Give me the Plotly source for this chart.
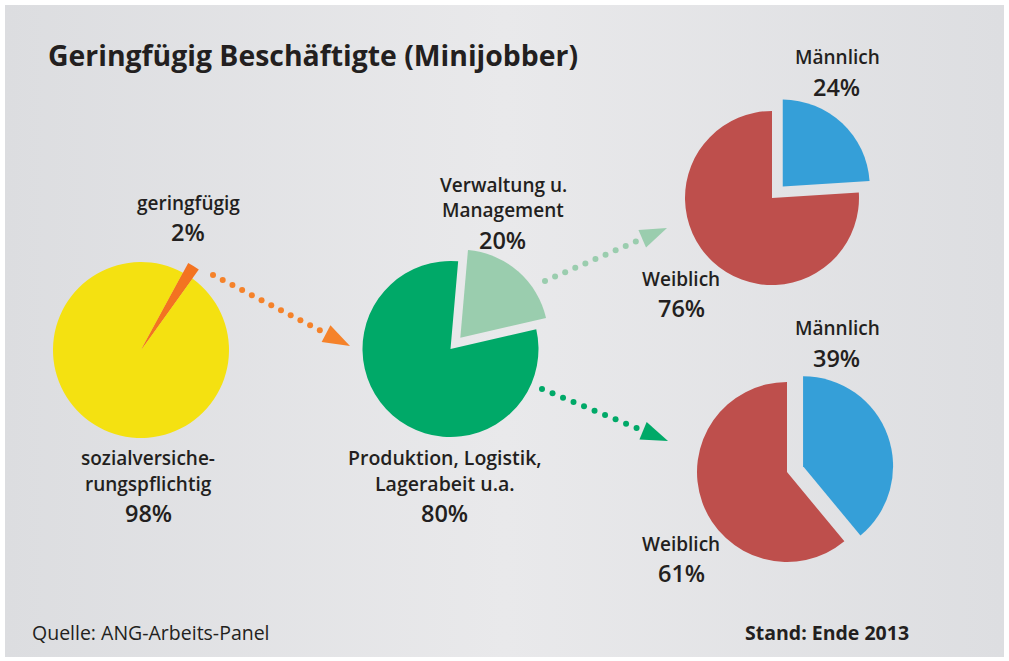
import numpy as np
import plotly.graph_objects as go

W, H = 1009, 661

# --- Daten ---------------------------------------------------------------
beschaeftigung = ['geringfügig', 'sozialversicherungspflichtig']
anteil_beschaeftigung = [2, 98]

taetigkeit = ['Verwaltung u. Management', 'Produktion, Logistik, Lagerabeit u.a.']
anteil_taetigkeit = [20, 80]

geschlecht = ['Männlich', 'Weiblich']
anteil_verwaltung = [24, 76]
anteil_produktion = [39, 61]

# Beschriftungen (Zeilen)
label_geringfuegig = ['geringfügig']
label_sozial = ['sozialversiche-', 'rungspflichtig']
label_verwaltung = ['Verwaltung u.', 'Management']
label_produktion = ['Produktion, Logistik,', 'Lagerabeit u.a.']

YELLOW = '#f4e111'
ORANGE = '#f37321'
ORANGE_DOT = '#f5822a'
GREEN = '#00a968'
LIGHT_GREEN = '#9acdae'
RED = '#be4f4c'
BLUE = '#359fd8'
TEXT = '#231f20'
FONT = 'Open Sans'


def domain(cx, cy, r, pull=0.0):
    # pixel centre/radius -> paper domain (plotly shrinks r by 1+pull)
    h = r * (1 + pull)
    return dict(x=[(cx - h) / W, (cx + h) / W],
                y=[1 - (cy + h) / H, 1 - (cy - h) / H])


def pie(labels, values, colors, dom, rotation=0, pull=None, hover=True):
    return go.Pie(
        labels=labels, values=values, sort=False, direction='clockwise',
        rotation=rotation, pull=pull if pull is not None else 0,
        marker=dict(colors=colors, line=dict(width=0)),
        textinfo='none', showlegend=False, domain=dom,
        hoverinfo='label+percent' if hover else 'skip',
    )


fig = go.Figure()

# Hintergrund (gebürstetes Metall, leichter Verlauf)
fig.add_trace(go.Scatter(
    x=[5, 1004, 1004, 5, 5], y=[5, 5, 657, 657, 5],
    mode='lines', fill='toself', line=dict(width=0),
    fillgradient=dict(type='horizontal',
                      colorscale=[[0, '#dcdde0'], [0.5, '#e9e9eb'], [1, '#dddee1']]),
    showlegend=False, hoverinfo='skip',
))

# ================================================================
#  Pfeile (gepunktet, mit Dreieck-Spitze) in Pixelkoordinaten
# ================================================================
arrows = [
    ((213, 275), (350, 346), ORANGE_DOT, 12),
    ((545, 281), (667, 228), LIGHT_GREEN, 10),
    ((542, 389), (668, 441), GREEN, 10),
]
for (x0, y0), (x1, y1), clr, n in arrows:
    u = np.array([x1 - x0, y1 - y0], dtype=float)
    u /= np.linalg.norm(u)
    perp = np.array([-u[1], u[0]])
    tip = np.array([x1, y1], dtype=float)
    base = tip - 27 * u
    last = base - 7 * u
    xs = np.linspace(x0, last[0], n)
    ys = np.linspace(y0, last[1], n)
    fig.add_trace(go.Scatter(
        x=xs, y=ys, mode='markers',
        marker=dict(size=6, color=clr, line=dict(width=0)),
        showlegend=False, hoverinfo='skip',
    ))
    p1 = base + 9.5 * perp
    p2 = base - 9.5 * perp
    fig.add_trace(go.Scatter(
        x=[p1[0], tip[0], p2[0], p1[0]], y=[p1[1], tip[1], p2[1], p1[1]],
        mode='lines', fill='toself', fillcolor=clr, line=dict(width=0, color=clr),
        showlegend=False, hoverinfo='skip',
    ))

# ================================================================
#  Kreisdiagramme
# ================================================================
fig.add_trace(pie(beschaeftigung, anteil_beschaeftigung, [ORANGE, YELLOW],
                  domain(141, 350, 88), rotation=28.5))
fig.add_trace(pie(beschaeftigung, anteil_beschaeftigung, [ORANGE, 'rgba(0,0,0,0)'],
                  domain(141, 350, 99), rotation=28.5, hover=False))

fig.add_trace(pie(taetigkeit, anteil_taetigkeit, [LIGHT_GREEN, GREEN],
                  domain(450.5, 349, 88, 0.17), rotation=5, pull=[0.17, 0]))

fig.add_trace(pie(geschlecht, anteil_verwaltung, [BLUE, RED],
                  domain(772, 198, 87, 0.18), rotation=0, pull=[0.18, 0]))

fig.add_trace(pie(geschlecht, anteil_produktion, [BLUE, RED],
                  domain(787, 472, 90, 0.19), rotation=0, pull=[0.19, 0]))

# ================================================================
#  Beschriftungen
# ================================================================
def txt(text, x, y, size=19, weight=600, xanchor='center'):
    fig.add_annotation(x=x, y=y, xref='x', yref='y', text=text, showarrow=False,
                       xanchor=xanchor, yanchor='middle',
                       font=dict(family=FONT, size=size, color=TEXT, weight=weight))


def pct(v):
    return f'{v}%'


PCT = 23.5

txt(label_geringfuegig[0], 188, 203)
txt(pct(anteil_beschaeftigung[0]), 188, 232, size=PCT)

txt(label_sozial[0], 148, 458)
txt(label_sozial[1], 148, 484)
txt(pct(anteil_beschaeftigung[1]), 148, 513, size=PCT)

txt(label_verwaltung[0], 503, 185)
txt(label_verwaltung[1], 503, 210)
txt(pct(anteil_taetigkeit[0]), 502, 240, size=PCT)

txt(label_produktion[0], 445, 457, size=19.5)
txt(label_produktion[1], 445, 483, size=19.5)
txt(pct(anteil_taetigkeit[1]), 444, 513, size=PCT)

txt(geschlecht[0], 837, 57)
txt(pct(anteil_verwaltung[0]), 836, 87, size=PCT)
txt(geschlecht[1], 681, 279)
txt(pct(anteil_verwaltung[1]), 681, 308, size=PCT)

txt(geschlecht[0], 837, 328)
txt(pct(anteil_produktion[0]), 836, 358, size=PCT)
txt(geschlecht[1], 681, 544)
txt(pct(anteil_produktion[1]), 681, 573, size=PCT)

# Titel & Fußzeile
txt('Geringfügig Beschäftigte (Minijobber)', 46, 55, size=28.4, weight=700, xanchor='left')
txt('Quelle: ANG-Arbeits-Panel', 30, 632, size=19.5, weight=400, xanchor='left')
txt('Stand: Ende 2013', 911, 632, size=19.5, weight=700, xanchor='right')

# ================================================================
#  Layout
# ================================================================
fig.update_layout(
    width=W, height=H,
    margin=dict(l=0, r=0, t=0, b=0),
    paper_bgcolor='white',
    plot_bgcolor='rgba(0,0,0,0)',
    xaxis=dict(range=[0, W], visible=False, fixedrange=True),
    yaxis=dict(range=[H, 0], visible=False, fixedrange=True),
    hovermode='closest',
)

# Seitenrand des <body> entfernen, damit die Grafik genau das Fenster füllt
fig.write_html('out.html', config={'displayModeBar': False},
               post_script="document.body.style.margin='0';")
